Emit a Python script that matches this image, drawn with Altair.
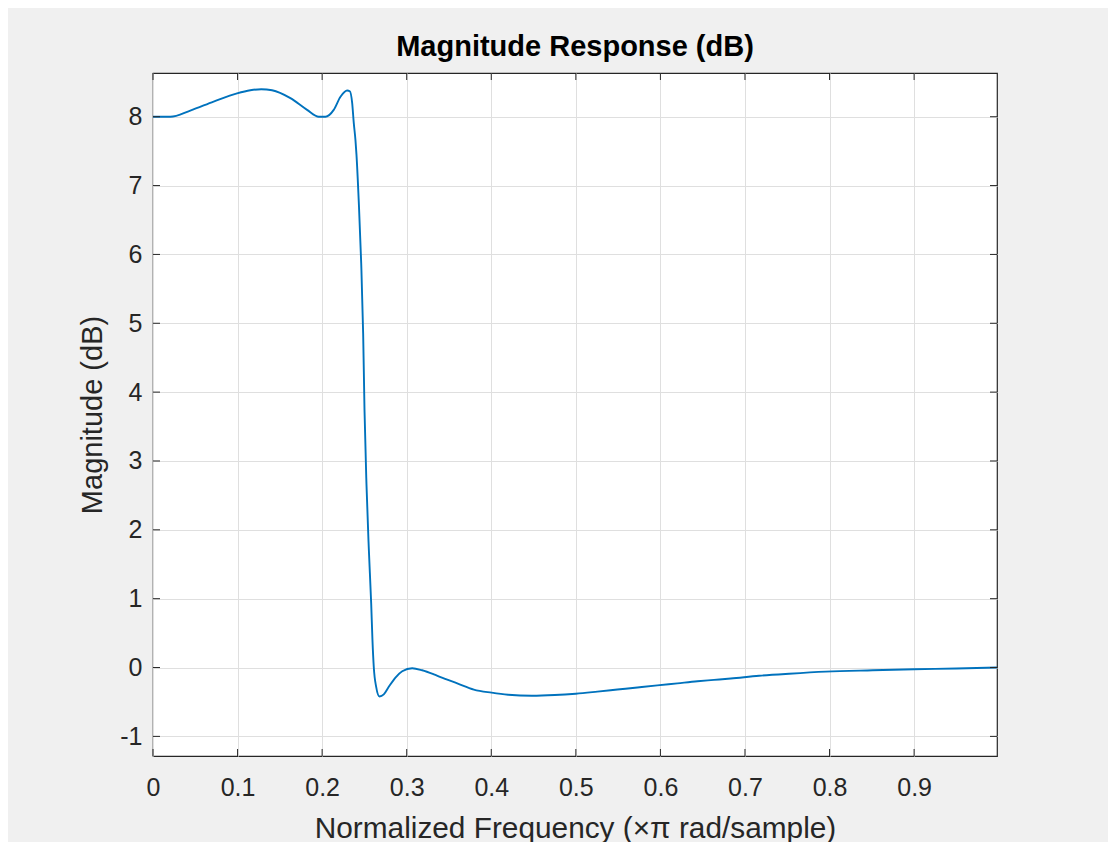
import altair as alt
import pandas as pd

# ---- data ----
freq = [0.0, 0.0205, 0.0441, 0.0717, 0.0994, 0.1151, 0.1280, 0.1408, 0.1625, 0.1822,
        0.1960, 0.2039, 0.2137, 0.2217, 0.2296, 0.2327, 0.2355, 0.2374, 0.2394, 0.2406,
        0.2433, 0.2462, 0.2485, 0.2501, 0.2524, 0.2551, 0.2580, 0.2595, 0.2611, 0.2639,
        0.2678, 0.2729, 0.2788, 0.2867, 0.2947, 0.3065, 0.3183, 0.3321, 0.3400, 0.3598,
        0.3794, 0.4004, 0.4200, 0.4480, 0.4750, 0.5000, 0.5254, 0.5491, 0.5728, 0.5964,
        0.6201, 0.6438, 0.6634, 0.6832, 0.7167, 0.7522, 0.7956, 0.8509, 0.9000, 0.9500,
        0.9988]
mag = [8.00, 8.00, 8.09, 8.22, 8.34, 8.385, 8.40, 8.385, 8.27, 8.10,
       8.00, 8.00, 8.10, 8.29, 8.38, 8.37, 8.20, 7.91, 7.66, 7.45,
       6.77, 5.87, 4.85, 3.74, 2.67, 1.75, 0.93, 0.40, 0.00, -0.28,
       -0.42, -0.39, -0.28, -0.145, -0.054, -0.01, -0.04, -0.10, -0.14, -0.23,
       -0.32, -0.365, -0.395, -0.41, -0.40, -0.38, -0.35, -0.32, -0.29, -0.26,
       -0.23, -0.20, -0.18, -0.16, -0.12, -0.09, -0.06, -0.04, -0.025, -0.015,
       0.00]

x_ticks = [0, 0.1, 0.2, 0.3, 0.4, 0.5, 0.6, 0.7, 0.8, 0.9]
y_ticks = [-1, 0, 1, 2, 3, 4, 5, 6, 7, 8]
x_domain = [0, 0.998]
y_domain = [-1.285, 8.635]

title_text = "Magnitude Response (dB)"
x_title = "Normalized Frequency (\u00d7\u03c0 rad/sample)"
y_title = "Magnitude (dB)"

# ---- chart ----
W, H = 844, 683
FONT = "Liberation Sans"
AX = "#262626"
TL = 7

df = pd.DataFrame({"f": freq, "m": mag})
xt = pd.DataFrame({"f": x_ticks})
yt = pd.DataFrame({"m": y_ticks})

xscale = alt.Scale(domain=x_domain, nice=False, zero=False)
yscale = alt.Scale(domain=y_domain, nice=False, zero=False)
xaxis = alt.Axis(values=x_ticks, title=x_title, format="~g")
yaxis = alt.Axis(values=y_ticks, title=y_title, format="d",
                 labelExpr="replace(datum.label, '\u2212', '-')")

X = alt.X("f:Q", scale=xscale, axis=xaxis)
Y = alt.Y("m:Q", scale=yscale, axis=yaxis)

line = alt.Chart(df).mark_line(
    color="#0072BD", strokeWidth=1.9, interpolate="monotone", clip=True
).encode(x=X, y=Y)

top_ticks = alt.Chart(xt).mark_rule(color=AX, strokeWidth=1).encode(
    x=X, y=alt.value(0), y2=alt.value(TL))
bottom_ticks = alt.Chart(xt).mark_rule(color=AX, strokeWidth=1).encode(
    x=X, y=alt.value(H), y2=alt.value(H - TL))
left_ticks = alt.Chart(yt).mark_rule(color=AX, strokeWidth=1).encode(
    y=Y, x=alt.value(0), x2=alt.value(TL))
right_ticks = alt.Chart(yt).mark_rule(color=AX, strokeWidth=1).encode(
    y=Y, x=alt.value(W), x2=alt.value(W - TL))

chart = alt.layer(line, top_ticks, bottom_ticks, left_ticks, right_ticks).properties(
    width=W, height=H,
    title=alt.TitleParams(title_text, font=FONT, fontSize=29, fontWeight="bold",
                          color="#000000", anchor="middle", frame="group",
                          offset=-12, baseline="alphabetic"),
    autosize=alt.AutoSizeParams(type="none"),
    padding={"left": 145, "top": 65, "right": 111, "bottom": 86},
    background="#f0f0f0",
).configure_view(
    fill="white", stroke=AX, strokeWidth=1.2
).configure_axis(
    labelFont=FONT, labelFontSize=25, labelColor=AX,
    titleFont=FONT, titleFontSize=29, titleFontWeight="normal", titleColor=AX,
    grid=True, gridColor="#dfdfdf", gridWidth=1,
    ticks=False, tickSize=0, domain=False, labelFlush=False,
).configure_axisX(
    labelPadding=19, titlePadding=13, titleFontSize=29.8
).configure_axisY(
    labelPadding=11, titlePadding=12
)

chart.save("out.html", embed_options={"renderer": "svg", "actions": False})
